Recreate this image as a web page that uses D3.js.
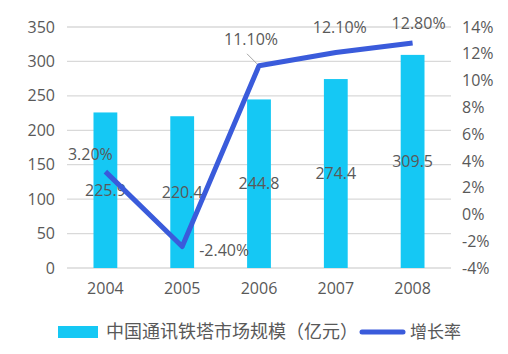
<!DOCTYPE html>
<html>
<head>
<meta charset="utf-8">
<script src="https://cdn.jsdelivr.net/npm/d3@7"></script>
<style>
  body { margin: 0; background: #fff; }
  text { font-family: "Open Sans", "Noto Sans CJK SC", sans-serif; fill: #595959; }
</style>
</head>
<body>
<div id="chart"></div>
<script>
// --- data ---
const years = ["2004", "2005", "2006", "2007", "2008"];
const marketSize = [225.9, 220.4, 244.8, 274.4, 309.5];
const growthRate = [3.2, -2.4, 11.1, 12.1, 12.8];
const leftTicks = [0, 50, 100, 150, 200, 250, 300, 350];
const rightTicks = [-4, -2, 0, 2, 4, 6, 8, 10, 12, 14];
const barName = "中国通讯铁塔市场规模（亿元）";
const lineName = "增长率";

// label offsets for the growth labels (dx, dy relative to point)
const rateLabelPos = [[-15, -17], [42, 4], [-8, -26], [4, -25], [6, -20]];

const W = 508, H = 354;
const plot = {left: 67, right: 451, top: 27, bottom: 268};
const fs = "16px";

const svg = d3.select("#chart").append("svg")
    .attr("width", W).attr("height", H);

const x = d3.scaleBand().domain(years).range([plot.left, plot.right]).paddingInner(0.69).paddingOuter(0.345);
const y = d3.scaleLinear().domain([0, 350]).range([plot.bottom, plot.top]);
const y2 = d3.scaleLinear().domain([-4, 14]).range([plot.bottom, plot.top]);

// gridlines
svg.append("g")
    .selectAll("line").data(leftTicks).enter().append("line")
    .attr("x1", plot.left).attr("x2", plot.right)
    .attr("y1", d => y(d)).attr("y2", d => y(d))
    .attr("stroke", "#d9d9d9").attr("stroke-width", 1.3);

// left axis
svg.append("g")
    .attr("transform", `translate(${plot.left - 12},0)`)
    .call(d3.axisLeft(y).tickValues(leftTicks).tickSize(0).tickPadding(0))
    .call(g => g.select(".domain").remove())
    .selectAll("text").style("font-size", fs).style("fill", "#595959");

// right axis
svg.append("g")
    .attr("transform", `translate(${plot.right + 11},0)`)
    .call(d3.axisRight(y2).tickValues(rightTicks).tickSize(0).tickPadding(0).tickFormat(d => d + "%"))
    .call(g => g.select(".domain").remove())
    .selectAll("text").style("font-size", fs).style("fill", "#595959");

// bottom axis labels
svg.append("g")
    .attr("transform", `translate(0,${plot.bottom + 10})`)
    .call(d3.axisBottom(x).tickSize(0).tickPadding(5))
    .call(g => g.select(".domain").remove())
    .selectAll("text").style("font-size", fs).style("fill", "#595959");

// bars
svg.append("g").selectAll("rect").data(years).enter().append("rect")
    .attr("x", d => x(d))
    .attr("width", x.bandwidth())
    .attr("y", (d, i) => y(marketSize[i]))
    .attr("height", (d, i) => y(0) - y(marketSize[i]))
    .attr("fill", "#15c8f4");

// bar value labels (centered)
svg.append("g").selectAll("text").data(years).enter().append("text")
    .attr("x", d => x(d) + x.bandwidth() / 2)
    .attr("y", (d, i) => (y(marketSize[i]) + y(0)) / 2)
    .attr("dy", "0.35em")
    .attr("text-anchor", "middle")
    .style("font-size", fs)
    .text((d, i) => marketSize[i].toFixed(1));

// growth line
const line = d3.line()
    .x((d, i) => x(years[i]) + x.bandwidth() / 2)
    .y(d => y2(d));

svg.append("path")
    .datum(growthRate)
    .attr("d", line)
    .attr("fill", "none")
    .attr("stroke", "#3a5bdb")
    .attr("stroke-width", 5)
    .attr("stroke-linejoin", "round");

// leader line for 2006 label
const p6x = x("2006") + x.bandwidth() / 2, p6y = y2(growthRate[2]);
svg.append("line")
    .attr("x1", p6x - 2).attr("y1", p6y - 2)
    .attr("x2", p6x - 12).attr("y2", p6y - 12)
    .attr("stroke", "#a6a6a6").attr("stroke-width", 1);

// growth labels
svg.append("g").selectAll("text").data(growthRate).enter().append("text")
    .attr("x", (d, i) => x(years[i]) + x.bandwidth() / 2 + rateLabelPos[i][0])
    .attr("y", (d, i) => y2(d) + rateLabelPos[i][1])
    .attr("dy", "0.35em")
    .attr("text-anchor", "middle")
    .style("font-size", fs)
    .text(d => d.toFixed(2) + "%");

// legend
const leg = svg.append("g").attr("transform", "translate(0,332)");
leg.append("rect").attr("x", 58).attr("y", -6).attr("width", 40).attr("height", 12).attr("fill", "#15c8f4");
leg.append("text").attr("x", 106).attr("dy", "0.35em").style("font-size", "18px").text(barName);
leg.append("line").attr("x1", 362).attr("x2", 403).attr("y1", 0).attr("y2", 0)
    .attr("stroke", "#3a5bdb").attr("stroke-width", 5).attr("stroke-linecap", "round");
leg.append("text").attr("x", 410).attr("dy", "0.35em").style("font-size", "17px").text(lineName);
</script>
</body>
</html>
